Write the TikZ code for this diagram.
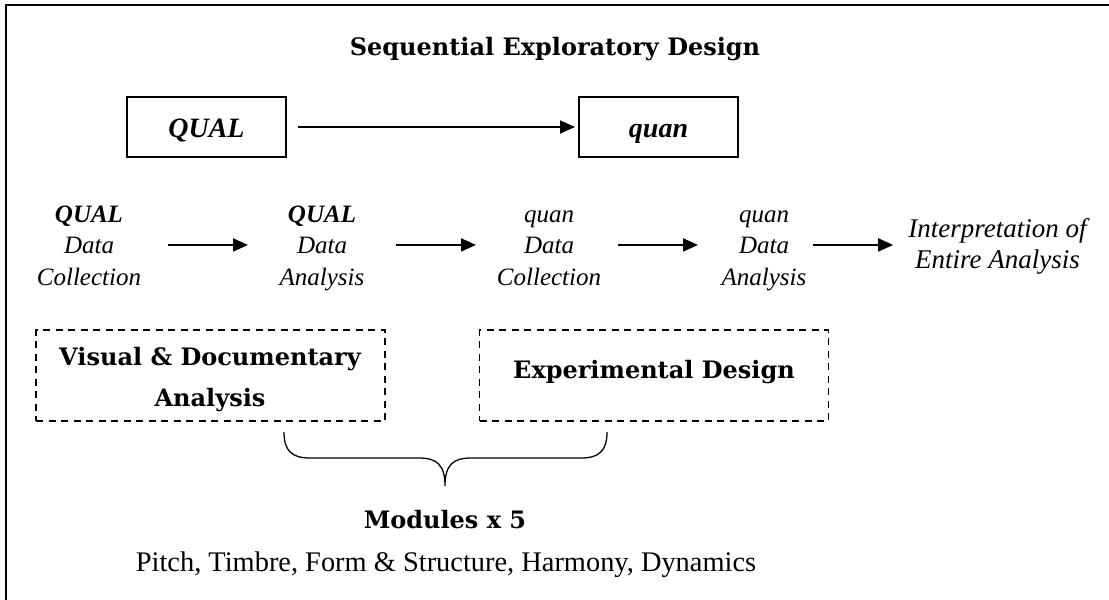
\documentclass[tikz,border=0pt]{standalone}
\usepackage{fontspec}
\setmainfont{Liberation Serif}
\newfontfamily\headfont{DejaVu Serif}
\usetikzlibrary{arrows.meta}

\tikzset{
  frameline/.style={line width=2.2pt, line cap=rect},
  arr/.style={line width=1.8pt, -{Triangle[length=15pt,width=13pt]}},
  solidbox/.style={draw, line width=2pt, minimum width=159pt, minimum height=60pt,
    inner sep=0pt, font=\bfseries\itshape\fontsize{28}{32}\selectfont,
    text height=20pt, text depth=0pt},
  dbox/.style={draw, line width=1.5pt, dash pattern=on 7pt off 5.5pt,
    minimum width=349pt, minimum height=91pt, inner sep=0pt},
  headtxt/.style={font=\headfont\bfseries\fontsize{24}{28}\selectfont, inner sep=0pt, anchor=base},
  coltxt/.style={font=\itshape\fontsize{25}{30}\selectfont, inner sep=0pt, anchor=base},
  colhead/.style={font=\bfseries\itshape\fontsize{25}{30}\selectfont, inner sep=0pt, anchor=base},
  endtxt/.style={font=\itshape\fontsize{27}{31}\selectfont, inner sep=0pt, anchor=base},
  plaintxt/.style={font=\fontsize{28.4}{32}\selectfont, inner sep=0pt, anchor=base},
  bracepath/.style={line width=1.3pt}
}

\begin{document}
\begin{tikzpicture}[x=1pt, y=-1pt]
\useasboundingbox (0,0) rectangle (1109,600);

% open frame (top and left edges)
\draw[frameline] (6,600) -- (6,5) -- (1109,5);

% title
\node[headtxt] (title) at (555,55) {Sequential Exploratory Design};

% overall sequence
\node[solidbox] (QUALbox) at (206.5,127) {QUAL};
\node[solidbox] (quanbox) at (658.5,127) {quan};
\draw[arr, shorten <=11pt, shorten >=3pt] (QUALbox) -- (quanbox);

% detailed steps
\node[colhead] (c1a) at (89,222) {QUAL};
\node[coltxt]  (c1b) at (89,253) {Data};
\node[coltxt]  (c1c) at (89,285) {Collection};

\node[colhead] (c2a) at (322,222) {QUAL};
\node[coltxt]  (c2b) at (322,253) {Data};
\node[coltxt]  (c2c) at (322,285) {Analysis};

\node[coltxt] (c3a) at (549,222) {quan};
\node[coltxt] (c3b) at (549,253) {Data};
\node[coltxt] (c3c) at (549,285) {Collection};

\node[coltxt] (c4a) at (764,222) {quan};
\node[coltxt] (c4b) at (764,253) {Data};
\node[coltxt] (c4c) at (764,285) {Analysis};

\node[endtxt] (ia) at (997.5,237) {Interpretation of};
\node[endtxt] (ib) at (997.5,268) {Entire Analysis};

\draw[arr, shorten <=79pt, shorten >=74pt] (c1b.center) -- (c2b.center);
\draw[arr, shorten <=74pt, shorten >=73pt] (c2b.center) -- (c3b.center);
\draw[arr, shorten <=69pt, shorten >=66pt] (c3b.center) -- (c4b.center);
\draw[arr, shorten <=49pt, shorten >=15pt] (c4b.center) -- (c4b.center -| ia.west);

% method boxes
\node[dbox] (vbox) at (210.5,375.5) {};
\node[headtxt] (vt1) at (210,365) {Visual \& Documentary};
\node[headtxt] (vt2) at (210,406) {Analysis};

\node[dbox] (ebox) at (654,375.5) {};
\node[headtxt] (et) at (654,378) {Experimental Design};

% brace gathering both methods
\coordinate (bl) at (284,432);
\coordinate (br) at (607,432);
\coordinate (btip) at (445,486);
\draw[bracepath] (bl) .. controls (284,451) and (292,458) .. (310,458) -- (419,458)
  .. controls (437,458) and (445,465) .. (btip)
  .. controls (445,465) and (453,458) .. (471,458) -- (581,458)
  .. controls (599,458) and (607,451) .. (br);

\node[headtxt] (mods) at (445,528) {Modules x 5};
\node[plaintxt] (topics) at (446,571) {Pitch, Timbre, Form \& Structure, Harmony, Dynamics};
\end{tikzpicture}
\end{document}
